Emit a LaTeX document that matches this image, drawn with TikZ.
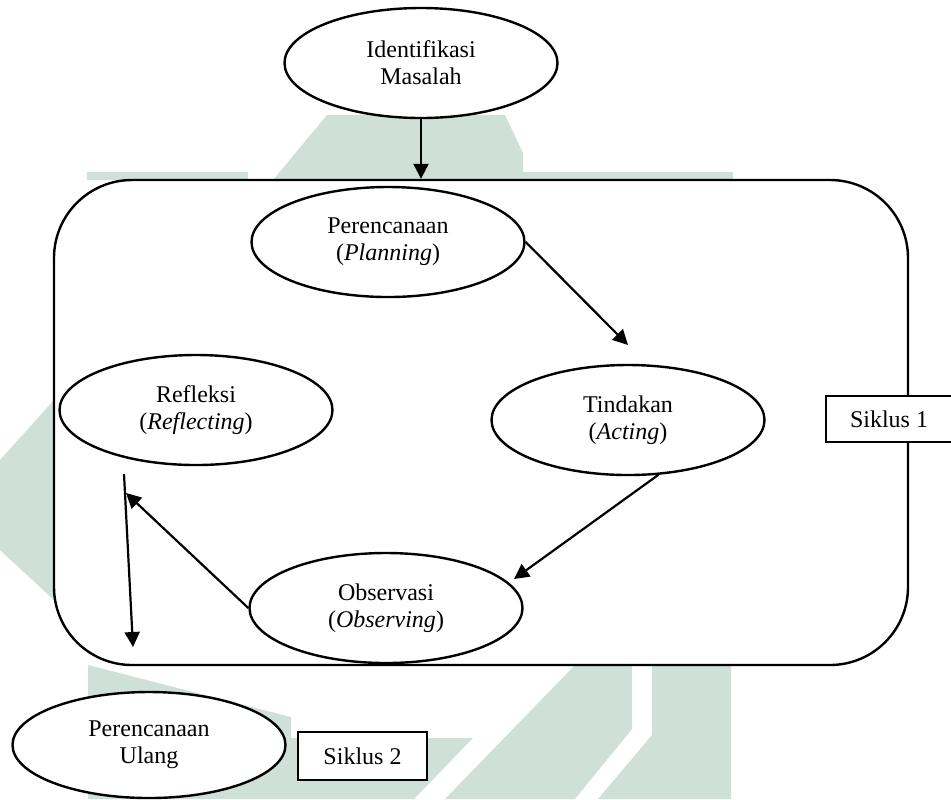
\documentclass[tikz,border=0pt]{standalone}
\usepackage{fontspec}
\setmainfont{Liberation Serif}
\usetikzlibrary{arrows.meta, shapes.geometric, calc}
\definecolor{hijaupudar}{RGB}{206,224,215}

\begin{document}
\begin{tikzpicture}[x=0.5pt, y=-0.5pt,
	tahap/.style={draw, ellipse, fill=white, line width=1.2pt, inner sep=0pt, minimum width=136.5pt, minimum height=55pt, align=center, font=\fontsize{12}{13.5}\selectfont},
	siklusbox/.style={draw, rectangle, fill=white, line width=1.2pt, inner sep=0pt, font=\fontsize{12}{13.5}\selectfont},
	panah/.style={line width=1.1pt, -{Triangle[length=7.5pt, width=7.5pt]}}]
	\useasboundingbox (0,0) rectangle (951,799);
%	watermark di belakang
	\fill[hijaupudar] (273,180) -- (327,115) -- (505,115) -- (523,153) -- (523,172) -- (733,172) -- (733,180) -- cycle;
	\fill[hijaupudar] (87,172) rectangle (248,180);
	\fill[hijaupudar] (54,400) -- (0,460) -- (0,550) -- (54,600) -- cycle;
	\fill[hijaupudar] (88,665) -- (291,717) -- (291,738) -- (473,738) -- (414,799) -- (88,799) -- cycle;
	\fill[hijaupudar] (575,665) -- (632,665) -- (632,729) -- (575,799) -- (445,799) -- cycle;
	\fill[hijaupudar] (652,665) -- (731,665) -- (731,799) -- (598,799) -- (652,735) -- cycle;

	\node[draw, fill=white, line width=1.2pt, rounded corners=39pt, minimum width=427pt, minimum height=242.5pt] (kotak) at (481,422.5) {};

	\node[tahap] (idm) at (421,63) {Identifikasi\\Masalah};
	\node[tahap] (plan) at (388,242) {Perencanaan\\(\textit{Planning})};
	\node[tahap] (act) at (628,420) {Tindakan\\(\textit{Acting})};
	\node[tahap] (obs) at (386,608) {Observasi\\(\textit{Observing})};
	\node[tahap] (refl) at (196,410) {Refleksi\\(\textit{Reflecting})};
	\node[tahap, minimum height=53pt] (ulang) at (149,745) {Perencanaan\\Ulang};

	\node[siklusbox, minimum width=63pt, minimum height=23pt] (s1) at (889,419) {Siklus 1};
	\node[siklusbox, minimum width=64.5pt, minimum height=24pt] (s2) at (362.5,756) {Siklus 2};

	\coordinate (ujungA) at (628,345);
	\coordinate (ujungB) at (514,579);
	\coordinate (ujungC) at (126,493);
	\coordinate (pangkalD) at (124,474);
	\coordinate (ujungD) at (133,647);

	\draw[panah] (idm.south) -- (idm.south |- kotak.north);
	\draw[panah] (plan.east) -- (ujungA);
	\draw[panah] (act.-61) -- (ujungB);
	\draw[panah] (obs.west) -- (ujungC);
	\draw[panah] (pangkalD) -- (ujungD);

\end{tikzpicture}
\end{document}
